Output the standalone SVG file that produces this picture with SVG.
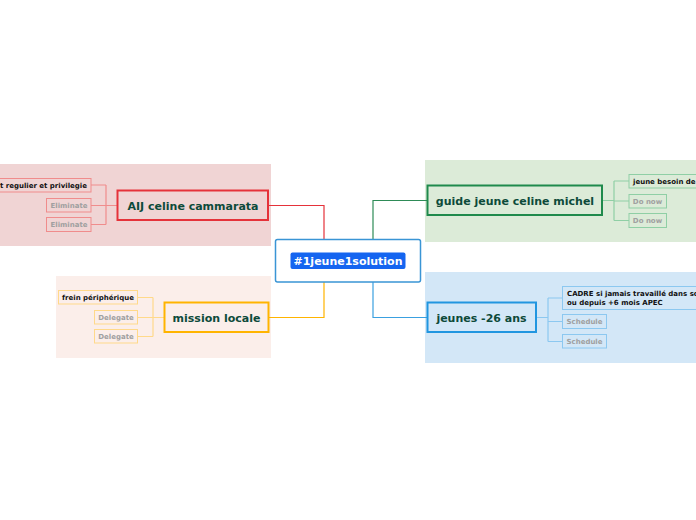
<svg xmlns="http://www.w3.org/2000/svg" width="696" height="520" viewBox="0 0 696 520">
<style>
text{font-family:"DejaVu Sans",Verdana,sans-serif;font-weight:bold}
.main{font-size:11px;fill:#0d4a3a;text-anchor:middle}
.sub{font-size:7px;fill:#111}
.ph{font-size:7px;fill:#a0a0a0;text-anchor:middle}
.c{fill:none;stroke-width:1.2}
</style>
<rect width="696" height="520" fill="#fff"/>
<!-- section backgrounds -->
<rect x="0" y="164" width="271" height="82" fill="#f0d4d4"/>
<rect x="425" y="160" width="271" height="82" fill="#dcebd8"/>
<rect x="425" y="272" width="271" height="91" fill="#d3e7f7"/>
<rect x="56" y="276" width="215" height="82" fill="#fbeeea"/>
<g id="connectors">
<path class="c" stroke="#e5323a" d="M324,239 V205.5 H268"/>
<path class="c" stroke="#2e8b57" d="M373,239 V200.5 H427"/>
<path class="c" stroke="#ffb400" d="M324,282 V317.5 H269"/>
<path class="c" stroke="#3aa0e0" d="M373,282 V317.5 H427"/>
<path class="c" stroke="#f08c8c" d="M117,205.5 H106 M106,185 V224.5 M91,185 H106 M91,205.5 H106 M91,224.5 H106"/>
<path class="c" stroke="#8fcfa5" d="M602,200.5 H614 M614,181 V220.5 M614,181 H629 M614,201 H629 M614,220.5 H629"/>
<path class="c" stroke="#8cc8f0" d="M536,317.5 H548 M548,298 V341.5 M548,298 H562 M548,321.5 H562 M548,341.5 H562"/>
<path class="c" stroke="#ffd98a" d="M164,317.5 H153 M153,297.5 V336.5 M137,297.5 H153 M137,317.5 H153 M137,336.5 H153"/>
</g>
<g id="center">
<rect x="275.5" y="239.5" width="145" height="42.5" rx="2" fill="#fff" stroke="#3a95d5" stroke-width="1.5"/>
<rect x="290.5" y="252.5" width="115" height="16.5" rx="2" fill="#1565f0"/>
<text x="348" y="265" font-size="11" fill="#fff" text-anchor="middle">#1jeune1solution</text>
</g>
<g id="aij">
<rect x="117.5" y="190.5" width="150.5" height="29.5" fill="#f0d4d4" stroke="#e5323a" stroke-width="2"/>
<text class="main" x="193" y="209.5">AIJ celine cammarata</text>
</g>
<g id="aij-1">
<rect x="-5" y="178.5" width="96" height="13.5" fill="#f0d4d4" stroke="#f08c8c"/>
<text class="sub" x="87" y="188" text-anchor="end">ct regulier et privilegie</text>
</g>
<g id="aij-2">
<rect x="46.5" y="198.5" width="44.5" height="13.5" fill="#f0d4d4" stroke="#f08c8c"/>
<text class="ph" x="69" y="208">Eliminate</text>
</g>
<g id="aij-3">
<rect x="46.5" y="217.5" width="44.5" height="14" fill="#f0d4d4" stroke="#f08c8c"/>
<text class="ph" x="69" y="227">Eliminate</text>
</g>
<g id="guide">
<rect x="427.5" y="185.5" width="174.5" height="29.5" fill="#dcebd8" stroke="#1f8a4c" stroke-width="2"/>
<text class="main" x="515" y="204.5">guide jeune celine michel</text>
</g>
<g id="guide-1">
<rect x="629" y="174.5" width="80" height="13.5" fill="#dcebd8" stroke="#8fcfa5"/>
<text class="sub" x="633" y="184">jeune besoin de</text>
</g>
<g id="guide-2">
<rect x="629" y="194.5" width="37.5" height="13.5" fill="#dcebd8" stroke="#8fcfa5"/>
<text class="ph" x="647.5" y="204">Do now</text>
</g>
<g id="guide-3">
<rect x="629" y="213.5" width="37.5" height="14" fill="#dcebd8" stroke="#8fcfa5"/>
<text class="ph" x="647.5" y="223">Do now</text>
</g>
<g id="jeunes">
<rect x="427.5" y="302.5" width="108.5" height="29.5" fill="#d3e7f7" stroke="#2196e0" stroke-width="2"/>
<text class="main" x="481.5" y="321.5">jeunes -26 ans</text>
</g>
<g id="jeunes-1">
<rect x="562.5" y="286.5" width="150" height="23" fill="#d3e7f7" stroke="#8cc8f0"/>
<text class="sub" x="567" y="296">CADRE si jamais travaillé dans so</text>
<text class="sub" x="567" y="305">ou depuis +6 mois APEC</text>
</g>
<g id="jeunes-2">
<rect x="562.5" y="314.5" width="44" height="14" fill="#d3e7f7" stroke="#8cc8f0"/>
<text class="ph" x="584.5" y="324">Schedule</text>
</g>
<g id="jeunes-3">
<rect x="562.5" y="334.5" width="44" height="13.5" fill="#d3e7f7" stroke="#8cc8f0"/>
<text class="ph" x="584.5" y="344">Schedule</text>
</g>
<g id="mission">
<rect x="164.5" y="302.5" width="104" height="29.5" fill="#fbeeea" stroke="#ffb400" stroke-width="2"/>
<text class="main" x="216.5" y="321.5">mission locale</text>
</g>
<g id="mission-1">
<rect x="58.5" y="290.5" width="79" height="13.5" fill="#fbeeea" stroke="#ffd98a"/>
<text class="sub" x="98" y="300" text-anchor="middle">frein périphérique</text>
</g>
<g id="mission-2">
<rect x="94.5" y="310.5" width="43" height="13.5" fill="#fbeeea" stroke="#ffd98a"/>
<text class="ph" x="116" y="320">Delegate</text>
</g>
<g id="mission-3">
<rect x="94.5" y="329.5" width="43" height="13.5" fill="#fbeeea" stroke="#ffd98a"/>
<text class="ph" x="116" y="339">Delegate</text>
</g>
</svg>
